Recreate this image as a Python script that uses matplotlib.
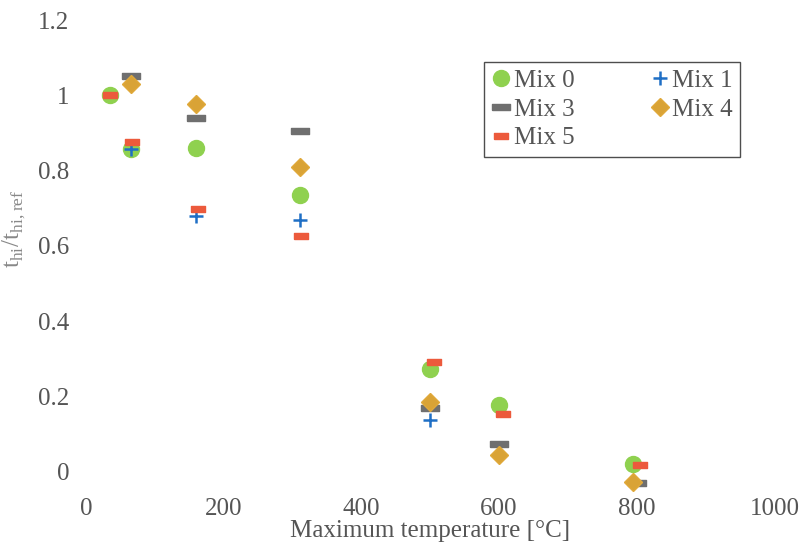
import matplotlib
matplotlib.use("Agg")
import matplotlib.pyplot as plt

# maximum temperature [°C] and residual ratio per mix
temp_mix0 = [35, 65, 160, 310, 500, 600, 795]
val_mix0 = [1.0, 0.857, 0.86, 0.735, 0.273, 0.178, 0.021]

temp_mix1 = [65, 160, 310, 500]
val_mix1 = [0.857, 0.68, 0.668, 0.138]

temp_mix3 = [65, 160, 310, 500, 600, 800]
val_mix3 = [1.05, 0.94, 0.905, 0.17, 0.072, -0.03]

temp_mix4 = [65, 160, 310, 500, 600, 795]
val_mix4 = [1.03, 0.976, 0.81, 0.186, 0.045, -0.027]

temp_mix5 = [35, 67, 162, 312, 505, 605, 805]
val_mix5 = [1.0, 0.875, 0.698, 0.626, 0.292, 0.154, 0.018]

xticks = [0, 200, 400, 600, 800, 1000]
yticks = [0, 0.2, 0.4, 0.6, 0.8, 1.0, 1.2]
ytick_labels = ["0", "0.2", "0.4", "0.6", "0.8", "1", "1.2"]

plt.rcParams["font.family"] = ["Liberation Serif", "DejaVu Serif"]
plt.rcParams["mathtext.fontset"] = "custom"
plt.rcParams["mathtext.rm"] = "Liberation Serif"
txt = "#555555"

# flat bar marker for Mix 3 / Mix 5
bar = [(-1, -0.28), (1, -0.28), (1, 0.28), (-1, 0.28), (-1, -0.28)]
bar5 = [(-1, -0.4), (1, -0.4), (1, 0.4), (-1, 0.4), (-1, -0.4)]

fig = plt.figure(figsize=(8.05, 5.56), dpi=100)
ax = fig.add_axes([0.107, 0.11, 0.855, 0.854])

h0, = ax.plot(temp_mix0, val_mix0, "o", ms=11.5, color="#8fd14f", mec="#8fd14f", ls="none", label="Mix 0")
h1, = ax.plot(temp_mix1, val_mix1, "+", ms=10, mew=1.8, color="#1f6fc5", ls="none", label="Mix 1")
h3, = ax.plot(temp_mix3, val_mix3, marker=bar, ms=13, color="#6f6f6f", ls="none", label="Mix 3")
h4, = ax.plot(temp_mix4, val_mix4, "D", ms=9, color="#d9a336", mec="#e0a93a", ls="none", label="Mix 4")
h5, = ax.plot(temp_mix5, val_mix5, marker=bar5, ms=10, color="#ec5a3c", ls="none", label="Mix 5")

ax.set_xlim(0, 1000)
ax.set_ylim(-0.062, 1.2)
ax.set_xticks(xticks)
ax.set_yticks(yticks)
ax.set_yticklabels(ytick_labels)
ax.tick_params(length=0, labelsize=18, labelcolor=txt)
ax.tick_params(axis="y", pad=12)
ax.tick_params(axis="x", pad=2)
for s in ax.spines.values():
    s.set_visible(False)

ax.set_xlabel("Maximum temperature [°C]", fontsize=18, color=txt, labelpad=0)
ax.set_ylabel(r"t$_{\mathrm{hi}}$/t$_{\mathrm{hi,ref}}$", fontsize=18, color="#888888")
ax.yaxis.set_label_coords(-0.085, 0.56)

leg = ax.legend([h0, h3, h5, h1, h4], ["Mix 0", "Mix 3", "Mix 5", "Mix 1", "Mix 4"],
                ncol=2, loc="upper left", bbox_to_anchor=(0.578, 0.912),
                fontsize=18, frameon=True, fancybox=False, handlelength=0.8,
                handletextpad=0.1, columnspacing=3.0, labelspacing=0.25,
                borderpad=0.3, borderaxespad=0)
leg.get_frame().set_edgecolor("#222222")
leg.get_frame().set_linewidth(1.0)
for t in leg.get_texts():
    t.set_color(txt)

fig.savefig("out.png", dpi=100)
